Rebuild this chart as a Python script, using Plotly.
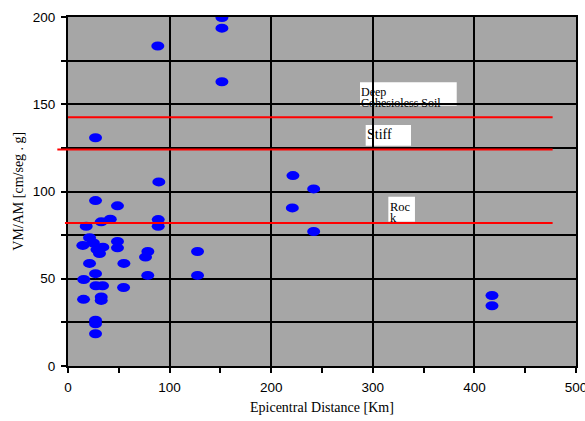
import plotly.graph_objects as go

# ---- data ----
distance_km = [88.4, 151.5, 151.5, 151.5, 27.1, 89.4, 221.4, 241.8, 220.8, 241.8,
               417.3, 417.3, 27.1, 48.7, 17.9, 32.7, 41.6, 88.8, 88.8, 21.2,
               14.6, 25.0, 34.3, 28.5, 31.0, 48.7, 48.7, 78.6, 76.3, 127.5,
               21.2, 55.0, 27.1, 78.5, 127.5, 15.5, 27.5, 34.0, 54.7, 15.3,
               32.7, 32.7, 27.1, 27.1, 27.1]
vm_am = [183.4, 199.7, 193.6, 162.9, 130.8, 105.5, 109.1, 101.5, 90.6, 77.1,
         40.4, 34.5, 94.8, 91.8, 80.1, 82.6, 84.1, 83.9, 80.1, 73.5,
         69.1, 70.5, 68.1, 66.7, 64.5, 71.4, 67.7, 65.6, 62.4, 65.6,
         58.8, 58.8, 52.9, 51.9, 51.9, 49.6, 46.0, 46.0, 45.0, 38.2,
         39.6, 37.6, 26.2, 24.2, 18.5]

soil_names = ["Deep\nCohesioless Soil", "Stiff", "Rock"]
soil_levels = [142.5, 124.0, 82.0]
soil_x_start = [0.0, -10.5, -3.0]
soil_x_end = [477.0, 477.0, 477.0]

x_ticks = [0, 100, 200, 300, 400, 500]
y_ticks = [0, 50, 100, 150, 200]

X_RANGE = [0, 500]
Y_RANGE = [0, 200]

fig = go.Figure()

# invisible trace so axes exist / hover works
fig.add_trace(go.Scatter(x=distance_km, y=vm_am, mode="markers",
                         marker=dict(size=12, color="rgba(0,0,255,0)"),
                         showlegend=False, hoverinfo="x+y"))

shapes = []
# white label boxes (below grid)
boxes = [(287.4, 382.6, 149.2, 162.6), (293.0, 337.6, 126.2, 138.1), (315.3, 341.5, 82.7, 97.0)]
for x0, x1, y0, y1 in boxes:
    shapes.append(dict(type="rect", xref="x", yref="y", x0=x0, x1=x1, y0=y0, y1=y1,
                       fillcolor="white", line=dict(width=0), layer="below"))

# blue elliptical points
for xv, yv in zip(distance_km, vm_am):
    shapes.append(dict(type="circle", xref="x", yref="y", xsizemode="pixel", ysizemode="pixel",
                       xanchor=xv, yanchor=yv, x0=-6.5, x1=6.5, y0=-4.5, y1=4.5,
                       fillcolor="#0000ff", line=dict(width=0), layer="above"))

# red soil lines
span = X_RANGE[1] - X_RANGE[0]
for lvl, xs, xe in zip(soil_levels, soil_x_start, soil_x_end):
    shapes.append(dict(type="line", xref="paper", yref="y",
                       x0=(xs - X_RANGE[0]) / span, x1=(xe - X_RANGE[0]) / span,
                       y0=lvl, y1=lvl, line=dict(color="#ff0000", width=2), layer="above"))

serif = "Liberation Serif, Times New Roman, serif"
annotations = []
label_items = [("Deep", 287.6, 157.3, 12), ("Cohesioless Soil", 287.6, 151.0, 12),
               ("Stiff", 293.3, 132.6, 14), ("Roc", 315.5, 91.3, 12.5), ("k", 315.5, 84.9, 12.5)]
for txt, xv, yv, fs in label_items:
    annotations.append(dict(text=txt, x=xv, y=yv, xref="x", yref="y", xanchor="left",
                            yanchor="middle", showarrow=False, borderpad=0,
                            font=dict(family=serif, size=fs, color="black")))

annotations.append(dict(text="Epicentral Distance [Km]", x=0.5, y=-0.12, xref="paper", yref="paper",
                        xanchor="center", yanchor="middle", showarrow=False,
                        font=dict(family=serif, size=14, color="black")))
annotations.append(dict(text="VM/AM [cm/seg . g]", x=-0.098, y=0.5, xref="paper", yref="paper",
                        xanchor="center", yanchor="middle", textangle=-90, showarrow=False,
                        font=dict(family=serif, size=14, color="black")))

sans = "Liberation Sans, Arial, sans-serif"
fig.update_layout(
    width=585, height=421,
    margin=dict(l=68, r=9, t=17, b=55, autoexpand=False),
    paper_bgcolor="white", plot_bgcolor="#a6a6a6",
    showlegend=False,
    shapes=shapes, annotations=annotations,
    xaxis=dict(range=X_RANGE, tickvals=x_ticks, ticktext=[str(v) for v in x_ticks],
               automargin=False, ticklabeloverflow="allow",
               showgrid=True, gridcolor="black", gridwidth=2,
               showline=True, linecolor="black", linewidth=2, mirror=True,
               ticks="outside", ticklen=5, tickwidth=2, tickcolor="black", ticklabelstandoff=3,
               minor=dict(dtick=50, ticks="outside", ticklen=5, tickwidth=2, tickcolor="black", showgrid=False),
               tickfont=dict(family=sans, size=13.5, color="black"),
               zeroline=False, fixedrange=True),
    yaxis=dict(range=Y_RANGE, tickvals=y_ticks, ticktext=[str(v) for v in y_ticks],
               automargin=False, ticklabeloverflow="allow",
               showgrid=True, gridcolor="black", gridwidth=2, griddash="2px,2.5px",
               showline=True, linecolor="black", linewidth=2, mirror=True,
               ticks="outside", ticklen=5, tickwidth=2, tickcolor="black", ticklabelstandoff=3,
               minor=dict(dtick=25, ticks="outside", ticklen=5, tickwidth=2, tickcolor="black",
                          showgrid=True, gridcolor="black", gridwidth=2, griddash="solid"),
               tickfont=dict(family=sans, size=13.5, color="black"),
               zeroline=False, fixedrange=True),
)

fig.write_html("out.html")
